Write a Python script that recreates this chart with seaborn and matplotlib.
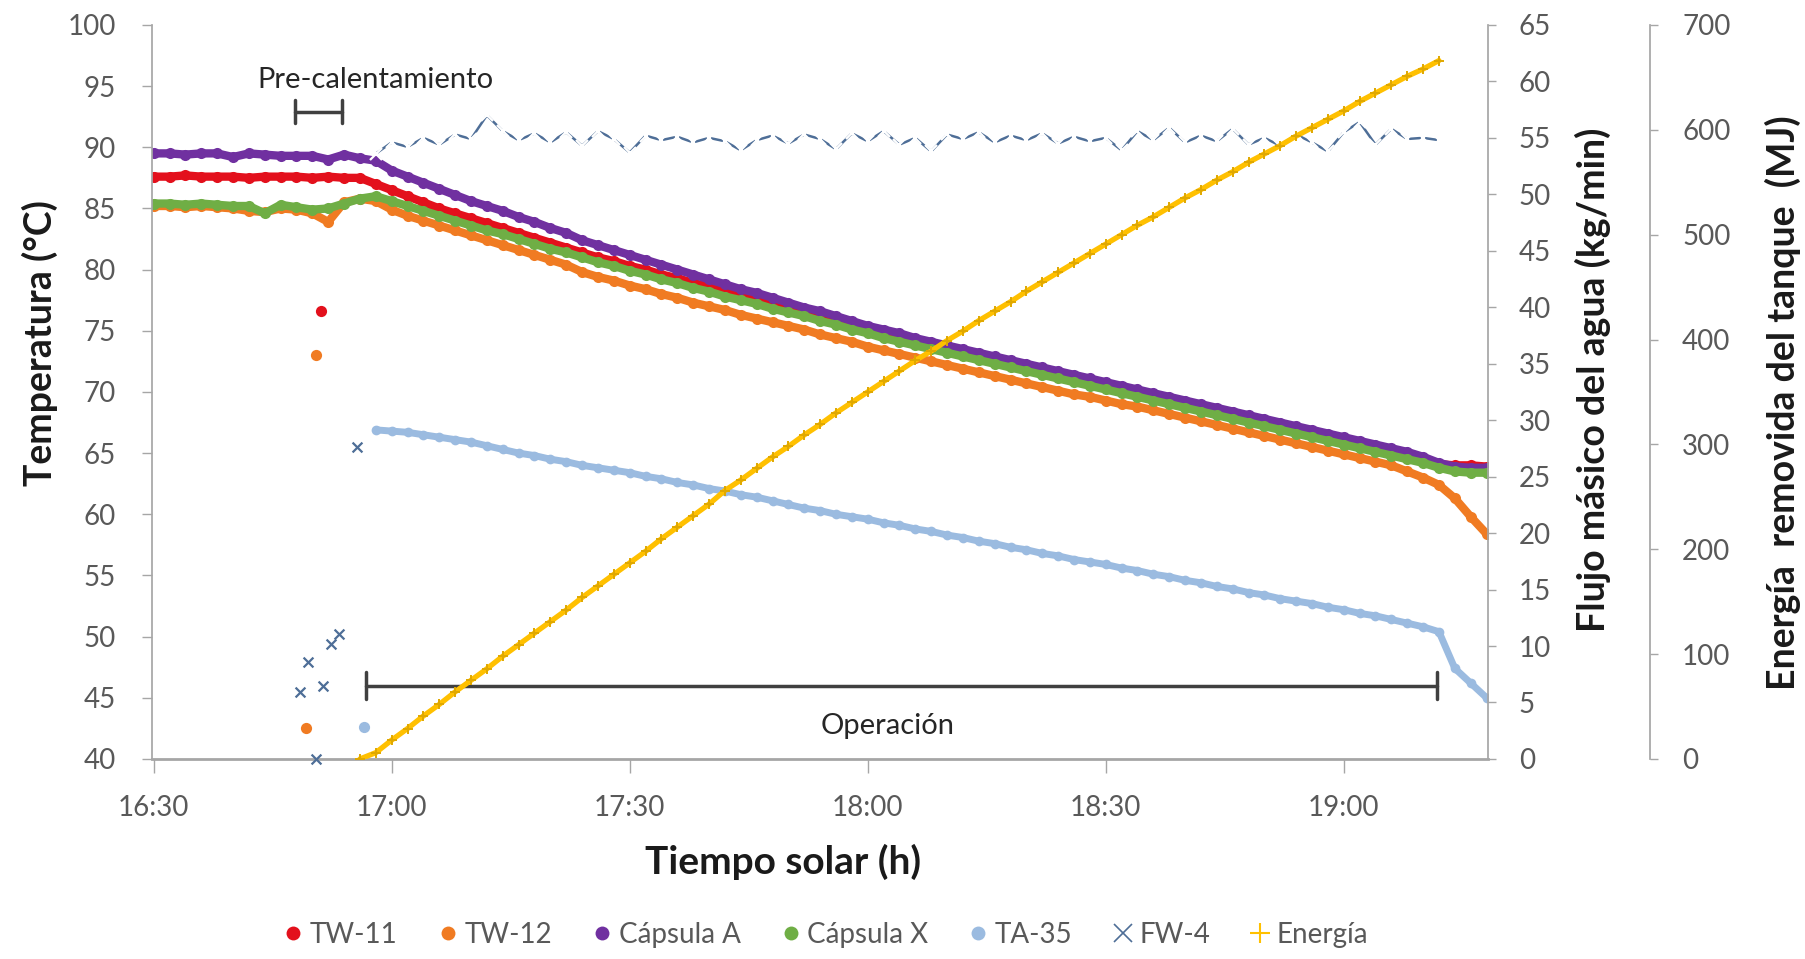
import matplotlib
matplotlib.use("Agg")
import matplotlib.pyplot as plt
import seaborn as sns
from matplotlib import font_manager
from matplotlib.lines import Line2D

# tiempo en minutos desde las 16:30 (muestreo cada 2 min)
minutos = list(range(0, 170, 2))
minutos_ta = list(range(28, 170, 2))
minutos_fw = list(range(28, 164, 2))
minutos_e = list(range(26, 164, 2))

tw11 = [87.6, 87.6, 87.7, 87.6, 87.6, 87.6, 87.5, 87.6, 87.6, 87.6, 87.5, 87.6, 87.5,
        87.5, 87.0, 86.5, 86.0, 85.5, 85.0, 84.6, 84.2, 83.8, 83.4, 83.0, 82.6, 82.2,
        81.8, 81.4, 81.0, 80.7, 80.3, 80.0, 79.6, 79.3, 78.9, 78.6, 78.2, 77.9, 77.6,
        77.2, 76.9, 76.6, 76.2, 75.9, 75.5, 75.2, 74.8, 74.5, 74.2, 73.9, 73.6, 73.3,
        73.0, 72.7, 72.4, 72.1, 71.8, 71.5, 71.2, 70.9, 70.6, 70.3, 70.0, 69.7, 69.4,
        69.1, 68.8, 68.5, 68.2, 67.9, 67.6, 67.3, 67.0, 66.7, 66.4, 66.1, 65.8, 65.5,
        65.2, 64.9, 64.5, 64.1, 64.0, 64.0, 63.9]
tw12 = [85.2, 85.2, 85.1, 85.2, 85.1, 85.0, 84.8, 84.7, 85.0, 84.9, 84.6, 83.9, 85.5,
        85.8, 85.6, 84.9, 84.4, 84.0, 83.6, 83.2, 82.8, 82.4, 82.0, 81.6, 81.2, 80.8,
        80.4, 79.8, 79.4, 79.1, 78.7, 78.4, 78.0, 77.7, 77.3, 77.0, 76.7, 76.3, 76.0,
        75.7, 75.4, 75.1, 74.7, 74.4, 74.1, 73.7, 73.4, 73.1, 72.8, 72.5, 72.2, 71.9,
        71.6, 71.3, 71.0, 70.7, 70.4, 70.1, 69.8, 69.6, 69.3, 69.0, 68.8, 68.5, 68.2,
        67.9, 67.6, 67.3, 67.0, 66.7, 66.4, 66.1, 65.8, 65.5, 65.2, 64.9, 64.6, 64.3,
        64.0, 63.5, 63.0, 62.4, 61.3, 59.8, 58.4]
capsula_a = [89.5, 89.5, 89.4, 89.5, 89.5, 89.2, 89.5, 89.4, 89.3, 89.3, 89.3, 89.0, 89.4,
             89.1, 88.9, 88.1, 87.6, 87.1, 86.6, 86.1, 85.6, 85.2, 84.8, 84.3, 83.9, 83.4,
             83.0, 82.4, 82.0, 81.6, 81.2, 80.8, 80.4, 80.0, 79.6, 79.2, 78.8, 78.4, 78.1,
             77.7, 77.3, 76.9, 76.6, 76.2, 75.8, 75.4, 75.1, 74.8, 74.4, 74.1, 73.8, 73.5,
             73.2, 72.9, 72.6, 72.3, 72.0, 71.7, 71.4, 71.1, 70.8, 70.5, 70.2, 69.9, 69.6,
             69.3, 69.0, 68.7, 68.4, 68.1, 67.8, 67.5, 67.2, 66.9, 66.6, 66.3, 66.0, 65.7,
             65.4, 65.1, 64.7, 64.2, 63.9, 63.8, 63.8]
capsula_x = [85.4, 85.4, 85.3, 85.4, 85.3, 85.2, 85.2, 84.6, 85.3, 85.1, 84.9, 85.0, 85.4,
             85.8, 86.0, 85.6, 85.2, 84.8, 84.4, 84.0, 83.6, 83.2, 82.9, 82.5, 82.1, 81.7,
             81.4, 81.0, 80.6, 80.3, 79.9, 79.6, 79.2, 78.9, 78.5, 78.2, 77.8, 77.5, 77.2,
             76.8, 76.5, 76.2, 75.8, 75.5, 75.1, 74.8, 74.4, 74.1, 73.8, 73.5, 73.2, 72.9,
             72.6, 72.3, 72.0, 71.7, 71.4, 71.1, 70.8, 70.5, 70.2, 69.9, 69.6, 69.3, 69.0,
             68.7, 68.4, 68.1, 67.8, 67.5, 67.2, 66.9, 66.6, 66.3, 66.0, 65.7, 65.4, 65.1,
             64.8, 64.5, 64.2, 63.8, 63.5, 63.4, 63.4]
ta35 = [66.9, 66.8, 66.7, 66.5, 66.3, 66.1, 65.9, 65.6, 65.3, 65.0, 64.8, 64.5, 64.3,
        64.0, 63.8, 63.6, 63.4, 63.1, 62.9, 62.6, 62.4, 62.1, 61.9, 61.6, 61.4, 61.1,
        60.8, 60.5, 60.3, 60.0, 59.8, 59.6, 59.3, 59.1, 58.8, 58.6, 58.3, 58.1, 57.8,
        57.6, 57.3, 57.1, 56.8, 56.6, 56.3, 56.1, 55.9, 55.6, 55.4, 55.1, 54.9, 54.6,
        54.4, 54.1, 53.9, 53.6, 53.4, 53.1, 52.9, 52.7, 52.4, 52.2, 51.9, 51.7, 51.4,
        51.1, 50.8, 50.4, 47.4, 46.2, 45.0]
fw4 = [53.6, 54.6, 54.2, 55.0, 54.4, 55.3, 54.9, 57.0, 55.6, 54.8, 55.4, 54.6, 55.5,
       54.3, 55.6, 54.9, 53.7, 55.2, 54.8, 55.1, 54.6, 55.0, 54.7, 53.9, 54.8, 55.2,
       54.5, 55.3, 54.9, 54.0, 55.4, 54.7, 55.6, 54.4, 55.0, 53.8, 55.3, 54.9, 55.5,
       54.6, 55.2, 54.8, 55.4, 54.5, 55.1, 54.7, 55.0, 53.9, 55.6, 54.8, 55.9, 54.6,
       55.2, 54.7, 55.8, 54.4, 55.0, 54.3, 55.3, 54.6, 53.8, 55.5, 56.4, 54.4, 55.8,
       54.9, 55.0, 54.8]
energia = [0, 6, 18, 29, 41, 52, 64, 75, 86, 98, 109, 120, 131, 142, 154, 165, 176, 187,
           198, 210, 221, 232, 243, 256, 266, 277, 288, 298, 309, 319, 330, 340, 350, 360,
           370, 380, 389, 399, 408, 418, 427, 436, 446, 455, 464, 473, 482, 491, 500, 509,
           517, 526, 535, 543, 552, 560, 569, 577, 585, 594, 602, 610, 618, 627, 635, 643,
           651, 658, 666]

# puntos sueltos durante el pre-calentamiento
tw11_sueltos_t = [21.1]
tw11_sueltos = [76.6]
tw12_sueltos_t = [19.2, 20.5]
tw12_sueltos = [42.5, 73.0]
ta35_sueltos_t = [26.5]
ta35_sueltos = [42.6]
fw4_sueltos_t = [18.5, 19.4, 20.5, 21.3, 22.3, 23.4, 25.6]
fw4_sueltos = [5.9, 8.6, 0.0, 6.5, 10.2, 11.1, 27.6]

xticks = [0, 30, 60, 90, 120, 150]
xtick_labels = ["16:30", "17:00", "17:30", "18:00", "18:30", "19:00"]

colores = {"TW-11": "#E3101C", "TW-12": "#F07B22", "Cápsula A": "#7030A0",
           "Cápsula X": "#6FAE45", "TA-35": "#9BBBE0", "FW-4": "#4E6E97",
           "Energía": "#FFC000"}

sns.set_theme(style="white")
nombres = {f.name for f in font_manager.fontManager.ttflist}
FUENTE = "Liberation Sans Narrow" if "Liberation Sans Narrow" in nombres else "Lato"
plt.rcParams["font.family"] = [FUENTE, "DejaVu Sans"]

GRIS = "#595959"
EJE = "#A6A6A6"

fig = plt.figure(figsize=(18.06, 9.59), dpi=100)
ax = fig.add_axes([0.0842, 0.2086, 0.7398, 0.7654])
ax2 = ax.twinx()
ax3 = ax.twinx()

# temperaturas
for serie, nombre in [(tw11, "TW-11"), (tw12, "TW-12"), (capsula_a, "Cápsula A"),
                      (capsula_x, "Cápsula X")]:
    sns.lineplot(x=minutos, y=serie, ax=ax, color=colores[nombre], marker="o",
                 markersize=8, markeredgewidth=0, linewidth=6, legend=False)
sns.lineplot(x=minutos_ta, y=ta35, ax=ax, color=colores["TA-35"], marker="o",
             markersize=7, markeredgewidth=0, linewidth=5, legend=False)

for tt, vv, nombre in [(tw11_sueltos_t, tw11_sueltos, "TW-11"),
                       (tw12_sueltos_t, tw12_sueltos, "TW-12"),
                       (ta35_sueltos_t, ta35_sueltos, "TA-35")]:
    sns.scatterplot(x=tt, y=vv, ax=ax, color=colores[nombre], s=65, linewidth=0,
                    legend=False, clip_on=False)

# flujo
sns.lineplot(x=minutos_fw, y=fw4, ax=ax2, color=colores["FW-4"], marker="x",
             markersize=8, markeredgewidth=1.6, linewidth=1.8, legend=False)
sns.scatterplot(x=fw4_sueltos_t, y=fw4_sueltos, ax=ax2, color=colores["FW-4"],
                marker="x", s=50, linewidth=1.6, legend=False, clip_on=False)

# energia
sns.lineplot(x=minutos_e, y=energia, ax=ax3, color=colores["Energía"], marker="+",
             markersize=7, markeredgewidth=1.4, markeredgecolor="#E0A800",
             linewidth=3.8, legend=False)

ax.set_xlim(-0.2, 168.2)
ax.set_ylim(40, 100)
ax2.set_ylim(0, 65)
ax3.set_ylim(0, 700)
ax.set_xticks(xticks)
ax.set_xticklabels(xtick_labels)
ax.set_yticks(list(range(40, 101, 5)))
ax2.set_yticks(list(range(0, 66, 5)))
ax3.set_yticks(list(range(0, 701, 100)))
ax.set_xlabel("")
ax.set_ylabel("")

for a in (ax, ax2, ax3):
    for s in a.spines.values():
        s.set_visible(False)
ax.spines["left"].set_visible(True)
ax.spines["left"].set_color(EJE)
ax.spines["bottom"].set_visible(True)
ax.spines["bottom"].set_color(EJE)
ax.spines["bottom"].set_linewidth(2)
ax2.spines["right"].set_visible(True)
ax2.spines["right"].set_color(EJE)
ax3.spines["right"].set_visible(True)
ax3.spines["right"].set_color(EJE)
ax3.spines["right"].set_position(("axes", 1.1213))

ax.tick_params(axis="y", left=True, direction="out", length=7, width=1, color=EJE,
               labelsize=20, labelcolor=GRIS, pad=19)
ax.tick_params(axis="x", bottom=True, direction="out", length=10, width=1, color=EJE,
               labelsize=20, labelcolor=GRIS, pad=16)
ax2.tick_params(axis="y", right=True, direction="out", length=6, width=1, color=EJE,
                labelsize=20, labelcolor=GRIS, pad=16)
ax3.tick_params(axis="y", right=True, direction="out", length=6, width=1, color=EJE,
                labelsize=20, labelcolor=GRIS, pad=17)
ax2.set_ylabel("")
ax3.set_ylabel("")
ax2.grid(False)
ax3.grid(False)
ax.grid(False)

# titulos de ejes
fig.text(0.0221, 0.642, "Temperatura (°C)", rotation=90, ha="center", va="center",
         fontsize=27, fontweight="bold", color="#1A1A1A")
fig.text(0.882, 0.604, "Flujo másico del agua (kg/min)", rotation=90, ha="center",
         va="center", fontsize=27, fontweight="bold", color="#1A1A1A")
fig.text(0.987, 0.580, "Energía  removida del tanque  (MJ)", rotation=90, ha="center",
         va="center", fontsize=27, fontweight="bold", color="#1A1A1A")
fig.text(0.4336, 0.101, "Tiempo solar (h)", ha="center", va="center", fontsize=28,
         fontweight="bold", color="#1A1A1A")

# intervalos de pre-calentamiento y operacion
BARRA = "#404040"
pre_ini, pre_fin, pre_y = 17.8, 23.8, 92.9
op_ini, op_fin, op_y = 26.8, 161.8, 46.0
ax.plot([pre_ini, pre_fin], [pre_y, pre_y], color=BARRA, lw=2.5)
ax.plot([pre_ini, pre_ini], [pre_y - 0.95, pre_y + 0.95], color=BARRA, lw=2.5)
ax.plot([pre_fin, pre_fin], [pre_y - 0.95, pre_y + 0.95], color=BARRA, lw=2.5)
ax.plot([op_ini, op_fin], [op_y, op_y], color=BARRA, lw=2.5)
ax.plot([op_ini, op_ini], [op_y - 1.1, op_y + 1.1], color=BARRA, lw=2.5)
ax.plot([op_fin, op_fin], [op_y - 1.1, op_y + 1.1], color=BARRA, lw=2.5)
ax.text(27.9, 95.5, "Pre-calentamiento", ha="center", va="center", fontsize=21,
        color="#262626")
ax.text(92.5, 42.7, "Operación", ha="center", va="center", fontsize=21, color="#262626")

# leyenda
handles = [
    Line2D([], [], ls="", marker="o", ms=10, mew=0, color=colores["TW-11"]),
    Line2D([], [], ls="", marker="o", ms=10, mew=0, color=colores["TW-12"]),
    Line2D([], [], ls="", marker="o", ms=10, mew=0, color=colores["Cápsula A"]),
    Line2D([], [], ls="", marker="o", ms=10, mew=0, color=colores["Cápsula X"]),
    Line2D([], [], ls="", marker="o", ms=10, mew=0, color=colores["TA-35"]),
    Line2D([], [], ls="", marker="x", ms=13, mew=1.2, color=colores["FW-4"]),
    Line2D([], [], ls="", marker="+", ms=15, mew=1.5, color=colores["Energía"]),
]
etiquetas = ["TW-11", "TW-12", "Cápsula A", "Cápsula X", "TA-35", "FW-4", "Energía"]
fig.legend(handles, etiquetas, loc="center", bbox_to_anchor=(0.457, 0.025), ncol=7,
           frameon=False, fontsize=20, handlelength=0.8, handletextpad=0.2,
           columnspacing=1.4, labelcolor=GRIS)

fig.savefig("out.png", dpi=100)
